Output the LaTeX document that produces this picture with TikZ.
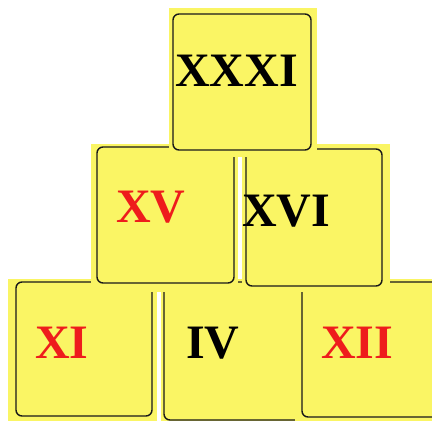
\documentclass[tikz,border=0pt]{standalone}
\usepackage{fontspec}
\setmainfont{Liberation Serif}
\definecolor{blockyellow}{RGB}{250,245,100}
\definecolor{numred}{RGB}{238,28,28}

\begin{document}
\begin{tikzpicture}[x=1pt,y=-1pt,
        numeral/.style={anchor=base west, inner sep=0pt, font=\fontsize{48}{50}\selectfont\bfseries}]
    \useasboundingbox (0,0) rectangle (432,421);
    \clip (0,0) rectangle (432,421);
    % bottom row first, then the middle row, then the top block
    \foreach \nm/\lbl/\col/\fa/\fb/\fc/\fd/\ba/\bb/\bc/\bd/\tx/\ty in {
            xi/XI/numred/8/279/157/430/16/282/152/416/35/358,
            iv/IV/black/161/279/300/430/164/282/301/420/186/358,
            xii/XII/numred/295/279/440/430/302/282/445/417/321/358,
            xv/XV/numred/91/144/238/292/97/147/234/283/116/222,
            xvi/XVI/black/242/144/390/292/246/149/382/286/242/226,
            xxxi/XXXI/black/169/8/317/157/173/14/311/150/175/86}{
        \fill[blockyellow] (\fa,\fb) rectangle (\fc,\fd);
        \draw[black!90, line width=1.4pt, rounded corners=6pt] (\ba,\bb) rectangle (\bc,\bd);
        \node[numeral, text=\col] (\nm) at (\tx,\ty) {\lbl};
    }
\end{tikzpicture}
\end{document}
